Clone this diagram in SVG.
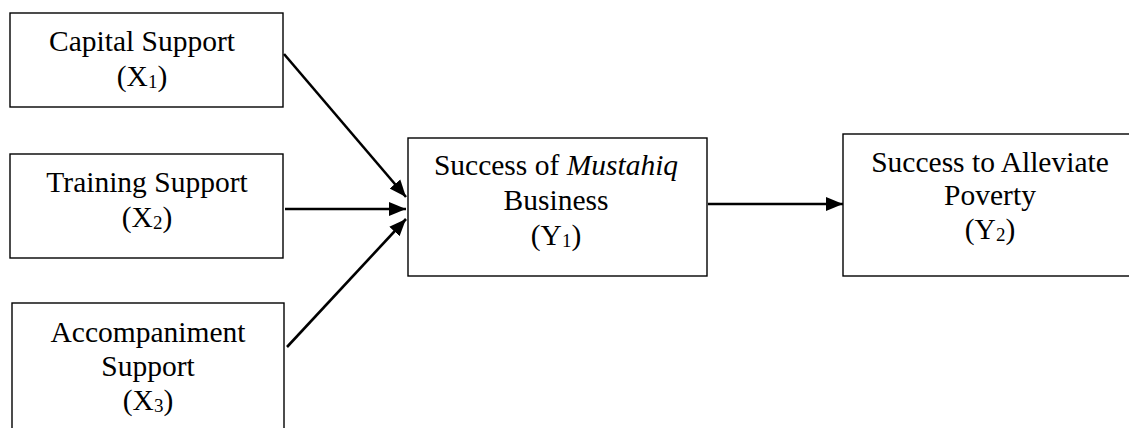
<svg xmlns="http://www.w3.org/2000/svg" width="1129" height="428" viewBox="0 0 1129 428">
<defs>
<style>
.box{fill:#fff;stroke:#000;stroke-width:1.4}
.t{font-family:"Liberation Serif","Times New Roman",serif;font-size:29.5px;fill:#000;text-anchor:middle}
.s{font-size:19px}
.c{stroke:#000;stroke-width:2.6;fill:none}
</style>
<marker id="ah" markerUnits="userSpaceOnUse" markerWidth="18" markerHeight="16" refX="17" refY="8" orient="auto">
<path d="M0,1 L17,8 L0,15 Z" fill="#000"/>
</marker>
</defs>
<rect width="1129" height="428" fill="#fff"/>
<g id="x1">
<rect class="box" x="10" y="13" width="273" height="94"/>
<text class="t" x="142" y="51">Capital Support</text>
<text class="t" x="142" y="86">(X<tspan class="s" dy="2">1</tspan><tspan dy="-2">)</tspan></text>
</g>
<g id="x2">
<rect class="box" x="10" y="154" width="273" height="104"/>
<text class="t" x="147" y="192">Training Support</text>
<text class="t" x="147" y="227">(X<tspan class="s" dy="2">2</tspan><tspan dy="-2">)</tspan></text>
</g>
<g id="x3">
<rect class="box" x="12" y="303" width="272" height="140"/>
<text class="t" x="148" y="342">Accompaniment</text>
<text class="t" x="148" y="376">Support</text>
<text class="t" x="148" y="410">(X<tspan class="s" dy="2">3</tspan><tspan dy="-2">)</tspan></text>
</g>
<g id="y1">
<rect class="box" x="408" y="138" width="299" height="138"/>
<text class="t" x="556" y="175">Success of <tspan font-style="italic">Mustahiq</tspan></text>
<text class="t" x="556" y="210">Business</text>
<text class="t" x="556" y="245">(Y<tspan class="s" dy="2">1</tspan><tspan dy="-2">)</tspan></text>
</g>
<g id="y2">
<rect class="box" x="843" y="134" width="300" height="142"/>
<text class="t" x="990" y="172">Success to Alleviate</text>
<text class="t" x="990" y="205">Poverty</text>
<text class="t" x="990" y="239">(Y<tspan class="s" dy="2">2</tspan><tspan dy="-2">)</tspan></text>
</g>
<g id="connectors">
<line class="c" x1="284" y1="54" x2="406" y2="197" marker-end="url(#ah)"/>
<line class="c" x1="285" y1="209" x2="406" y2="209" marker-end="url(#ah)"/>
<line class="c" x1="287" y1="347" x2="406" y2="219" marker-end="url(#ah)"/>
<line class="c" x1="708" y1="204" x2="843" y2="204" marker-end="url(#ah)"/>
</g>
</svg>
